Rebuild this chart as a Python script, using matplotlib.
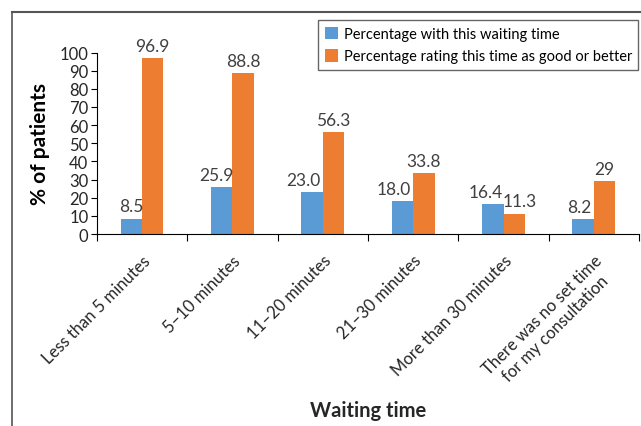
import matplotlib
matplotlib.use("Agg")
import matplotlib.pyplot as plt
from matplotlib.lines import Line2D

plt.rcParams['font.family'] = ['Lato', 'DejaVu Sans']

categories = ["Less than 5 minutes", "5\u201310 minutes", "11\u201320 minutes",
              "21\u201330 minutes", "More than 30 minutes",
              "There was no set time\nfor my consultation"]
waiting = [8.5, 25.9, 23.0, 18.0, 16.4, 8.2]
rating = [96.9, 88.8, 56.3, 33.8, 11.3, 29]
waiting_labels = ["8.5", "25.9", "23.0", "18.0", "16.4", "8.2"]
rating_labels = ["96.9", "88.8", "56.3", "33.8", "11.3", "29"]
series_names = ["Percentage with this waiting time",
                "Percentage rating this time as good or better"]

blue = "#5B9BD5"
orange = "#ED7D31"

fig = plt.figure(figsize=(6.41, 4.27), dpi=100)
ax = fig.add_axes([0.151, 0.4496, 0.846, 0.425])

x = list(range(len(categories)))
w = 0.237
b1 = ax.bar([i - w / 2 for i in x], waiting, w, color=blue, label=series_names[0])
b2 = ax.bar([i + w / 2 for i in x], rating, w, color=orange, label=series_names[1])

# data labels, nudged sideways like the original where they would collide
blue_dx = [0, -4, -6, -6, -5, -3]
orange_dx = [0, 0, 0, 0, 4, 0]
for rects, labs, dxs in [(b1, waiting_labels, blue_dx), (b2, rating_labels, orange_dx)]:
    for r, lab, dx in zip(rects, labs, dxs):
        ax.annotate(lab, (r.get_x() + r.get_width() / 2, r.get_height()),
                    xytext=(dx, 3), textcoords="offset points",
                    ha="center", va="bottom", fontsize=12.5, color="#404040")

ax.set_xlim(-0.5, len(categories) - 0.5)
ax.set_ylim(0, 100)
ax.set_yticks(range(0, 101, 10))
ax.tick_params(axis="y", labelsize=12, length=4, width=0.8, colors="#000000",
               labelcolor="#262626", pad=2)

ax.set_xticks([i - 0.5 for i in range(len(categories) + 1)])
ax.set_xticklabels([])
ax.tick_params(axis="x", which="major", length=5, width=0.8)
ax.set_xticks(x, minor=True)
ax.set_xticklabels(categories, minor=True, rotation=45, ha="right", va="top",
                   rotation_mode="anchor", fontsize=12, color="#262626",
                   multialignment="center")
ax.tick_params(axis="x", which="minor", length=0, pad=13)

for s in ["top", "right"]:
    ax.spines[s].set_visible(False)
for s in ["left", "bottom"]:
    ax.spines[s].set_linewidth(0.8)

ax.set_ylabel("% of patients", fontsize=15, fontweight="bold", labelpad=7)
fig.text(368 / 641, 1 - 411 / 427, "Waiting time", ha="center", va="center",
         fontsize=14.5, fontweight="bold", color="#262626")

leg = fig.legend(loc="upper left", bbox_to_anchor=(318 / 641, 1 - 21 / 427),
                 fontsize=10.5, frameon=True, fancybox=False, handlelength=0.9,
                 handleheight=0.9, handletextpad=0.4, labelspacing=0.6,
                 borderpad=0.45, borderaxespad=0)
leg.get_frame().set_edgecolor("#404040")
leg.get_frame().set_linewidth(1.0)

# outer frame of the figure
fig.add_artist(Line2D([12 / 641, 1], [1 - 13 / 427, 1 - 13 / 427],
                      transform=fig.transFigure, color="#555555", lw=1.5))
fig.add_artist(Line2D([12 / 641, 12 / 641], [1 - 13 / 427, 0],
                      transform=fig.transFigure, color="#555555", lw=1.2))

fig.savefig("out.png", dpi=100)
